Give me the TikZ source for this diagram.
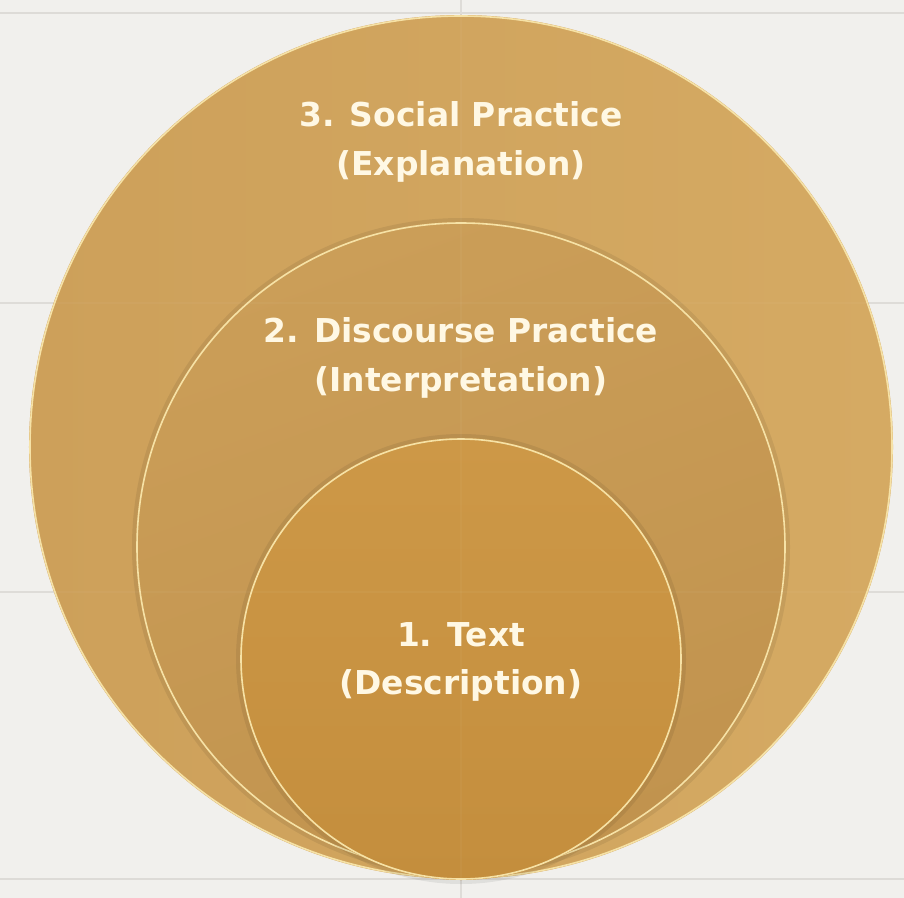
\documentclass[tikz,border=0pt]{standalone}
\usepackage{fontspec}
\setmainfont{DejaVu Sans}
\usetikzlibrary{calc}
\definecolor{paper}{HTML}{F1F0ED}
\definecolor{gridline}{HTML}{DDDBD7}
\definecolor{outerL}{HTML}{CDA05A}
\definecolor{outerR}{HTML}{D5AA63}
\definecolor{middleL}{HTML}{C1934E}
\definecolor{middleR}{HTML}{CB9E58}
\definecolor{innerL}{HTML}{C48E3D}
\definecolor{innerR}{HTML}{CD9847}
\definecolor{rim}{HTML}{F6E2A6}
\definecolor{cream}{HTML}{FFF8E4}
\tikzset{ringlabel/.style={text=cream, font=\fontsize{33}{49}\selectfont\bfseries, align=center}}

\begin{document}
\begin{tikzpicture}[x=1bp,y=-1bp]
		%%%%% START %%%%%
		
		\fill[paper] (0, 0) rectangle (904, 898);
		\useasboundingbox (0, 0) rectangle (904, 898);
		
		\draw[gridline, line width=1.5bp] (0, 13) -- (904, 13);
		\draw[gridline, line width=1.5bp] (0, 303) -- (904, 303);
		\draw[gridline, line width=1.5bp] (0, 592) -- (904, 592);
		\draw[gridline, line width=1.5bp] (0, 879) -- (904, 879);
		\draw[gridline, line width=1.5bp] (461, 0) -- (461, 898);
		
		% social practice
		\shade[left color=outerL, right color=outerR] (461, 447) circle [radius=432bp];
		\draw[rim, line width=1.6bp] (461, 447) circle [radius=431bp];
		
		% discourse practice
		\draw[black, opacity=0.07, line width=4bp] (461, 547) circle [radius=327bp];
		\shade[top color=middleR, bottom color=middleL, shading angle=20] (461, 547) circle [radius=325bp];
		\draw[rim, line width=1.6bp] (461, 547) circle [radius=324bp];
		
		% text
		\draw[black, opacity=0.07, line width=4bp] (461, 659) circle [radius=223bp];
		\shade[top color=innerR, bottom color=innerL] (461, 659) circle [radius=221bp];
		\draw[rim, line width=1.6bp] (461, 659) circle [radius=220bp];
		
		\draw[white, opacity=0.03, line width=1.5bp] (0, 303) -- (904, 303);
		\draw[white, opacity=0.03, line width=1.5bp] (0, 592) -- (904, 592);
		\draw[white, opacity=0.03, line width=1.5bp] (461, 0) -- (461, 898);
		
		\node[ringlabel] (social) at (461, 142) {3. Social Practice\\(Explanation)};
		\node[ringlabel] (discourse) at (461, 358) {2. Discourse Practice\\(Interpretation)};
		\node[ringlabel] (text) at (461, 662) {1. Text\\(Description)};
		
		%%%%% END %%%%%
	\end{tikzpicture}
\end{document}
